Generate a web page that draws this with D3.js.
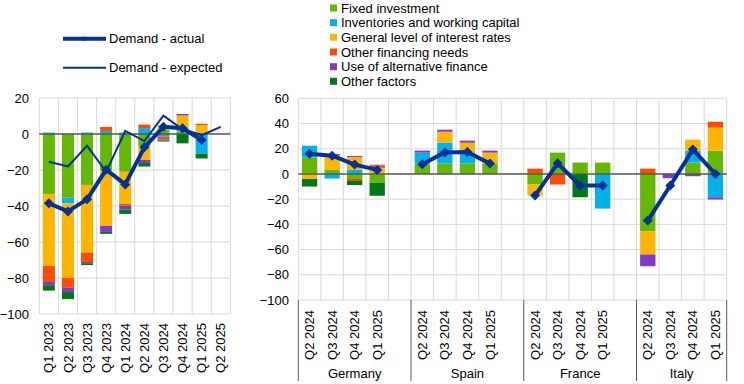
<!DOCTYPE html>
<html><head><meta charset="utf-8">
<script src="https://cdn.jsdelivr.net/npm/d3@7"></script>
<style>
body{margin:0;background:#fff;}
text{font-family:"Liberation Sans",Arial,sans-serif;font-size:13px;fill:#000;}
</style></head>
<body><svg id="c" width="744" height="384"></svg>
<script>
// ---------- DATA ----------
const seriesNames = ["Fixed investment","Inventories and working capital","General level of interest rates","Other financing needs","Use of alternative finance","Other factors"];
const seriesColors = ["#65B800","#00B1EA","#FFB400","#FF4B00","#8139C6","#007816"];

// Left panel (euro area)
const leftCats = ["Q1 2023","Q2 2023","Q3 2023","Q4 2023","Q1 2024","Q2 2024","Q3 2024","Q4 2024","Q1 2025","Q2 2025"];
const leftFixed   = [-33.3,-35.4,-28.3,-20.0,-21.0,-7.0, 2.5, 1.5, 0.0, null];
const leftInvent  = [  0.8, -3.1,  0.8,  1.7,  0.8, 3.3,-1.5, 1.8,-11.0, null];
const leftRates   = [-40.0,-41.5,-37.6,-31.0,-17.9,-7.4, 2.3, 7.0, 5.0, null];
const leftOtherFin= [ -8.9, -5.5, -5.2,  2.2, -0.9, 1.9,-1.5, 0.0, 0.7, null];
const leftAltFin  = [ -1.8, -2.3, -0.7, -3.4, -2.1,-1.7,-0.6, 0.8, 0.0, null];
const leftOther   = [ -3.0, -3.9, -1.0, -1.1, -2.5,-2.0,-0.6,-5.2,-2.6, null];
const leftActual  = [-38.5,-43.0,-36.3,-19.8,-28.0,-7.4, 4.0, 3.2,-3.3, null];
const leftExpected= [-15.4,-18.0, -6.5,-21.0,  1.7,-3.9,10.2, 2.6,-0.6, 4.0];
const leftTicks = [-100,-80,-60,-40,-20,0,20];

// Right panel (countries)
const countries = ["Germany","Spain","France","Italy"];
const quarters = ["Q2 2024","Q3 2024","Q4 2024","Q1 2025"];
//                    Germany                 Spain                  France                  Italy
const rFixed   = [13.1, 3.2,-4.0,-6.9,   8.4, 8.4, 8.4, 8.4,   -8.4,16.9, 9.0, 9.0,  -45.4, 0.0, 9.0,18.5];
const rInvent  = [ 9.3,-3.7, 3.2, 0.0,   8.5,16.4, 8.2, 0.0,    0.0, 0.0, 0.0,-27.5,   0.0, 0.0, 9.5,-18.5];
const rRates   = [-4.0,10.5,10.3, 4.8,   0.0, 8.7, 8.2, 8.5,   -8.8, 0.0, 0.0, 0.0,  -18.5, 0.0, 8.7,18.2];
const rOtherFin= [ 0.0, 1.2,-1.6, 2.0,   0.0, 0.0, 0.0, 0.0,    4.2,-8.4, 0.0, 0.0,    4.2, 0.0, 0.0, 4.7];
const rAltFin  = [ 0.0, 1.0, 0.8, 0.5,   1.6, 1.6, 1.6, 1.6,    0.0, 0.0, 0.0, 0.0,   -9.3,-3.4,-1.8,-1.8];
const rOther   = [-6.0, 0.0,-3.2,-10.4,  0.0, 0.0, 0.0, 0.0,    0.0, 0.0,-18.5, 0.0,   0.0, 0.0, 0.0, 0.0];
const rActual  = [16.0,14.5, 7.4, 3.2,   7.6,17.1,17.4, 8.2,  -17.2, 8.4,-9.2,-9.2,  -37.0,-9.2,19.3, 0.0];
const rightTicks = [-100,-80,-60,-40,-20,0,20,40,60];

// ---------- DRAW ----------
const svg = d3.select("#c");
const gridCol = "#d9d9d9", zeroCol = "#595959", lineCol = "#003299";
const diamond = r => `M0,${-r}L${r},0L0,${r}L${-r},0Z`;

function stackRows(cats, arrs){
  return cats.map((c,i)=>{const o={cat:c}; seriesNames.forEach((s,j)=>o[s]=arrs[j][i]==null?0:arrs[j][i]); return o;});
}
const stacker = d3.stack().keys(seriesNames).offset(d3.stackOffsetDiverging);

// ===== Left panel =====
{
  const x = d3.scaleBand().domain(leftCats).range([39.3,230.3]).paddingInner(0.37).paddingOuter(0.185);
  const y = d3.scaleLinear().domain([-100,20]).range([314,98]);
  const g = svg.append("g");
  g.selectAll(".hg").data(leftTicks).join("line").attr("x1",39.3).attr("x2",230.3)
    .attr("y1",d=>y(d)).attr("y2",d=>y(d)).attr("stroke",gridCol).attr("stroke-width",1);
  const step = x.step();
  g.selectAll(".vg").data(d3.range(leftCats.length+1)).join("line")
    .attr("x1",i=>39.3+i*step).attr("x2",i=>39.3+i*step).attr("y1",98).attr("y2",314)
    .attr("stroke",gridCol).attr("stroke-width",1);
  const ya = d3.axisLeft(y).tickValues(leftTicks).tickSize(0).tickPadding(0);
  const yg = g.append("g").attr("transform","translate(29,0)").call(ya);
  yg.select(".domain").remove();
  yg.selectAll("text").attr("font-size",13).attr("font-family","Liberation Sans, Arial, sans-serif").attr("fill","#000");
  const stacked = stacker(stackRows(leftCats,[leftFixed,leftInvent,leftRates,leftOtherFin,leftAltFin,leftOther]));
  stacked.forEach((s,j)=>{
    g.append("g").attr("fill",seriesColors[j]).selectAll("rect").data(s).join("rect")
      .attr("x",d=>x(d.data.cat)).attr("width",x.bandwidth())
      .attr("y",d=>y(Math.max(d[0],d[1]))).attr("height",d=>Math.abs(y(d[0])-y(d[1])));
  });
  g.append("line").attr("x1",39.3).attr("x2",230.3).attr("y1",y(0)).attr("y2",y(0)).attr("stroke",zeroCol).attr("stroke-width",1.5);
  const cx = c=>x(c)+x.bandwidth()/2;
  const ln = d3.line().defined(d=>d.v!=null).x(d=>cx(d.c)).y(d=>y(d.v));
  const expData = leftCats.map((c,i)=>({c,v:leftExpected[i]}));
  const actData = leftCats.map((c,i)=>({c,v:leftActual[i]}));
  g.append("path").attr("d",ln(expData)).attr("fill","none").attr("stroke",lineCol).attr("stroke-width",2);
  g.append("path").attr("d",ln(actData)).attr("fill","none").attr("stroke",lineCol).attr("stroke-width",4).attr("stroke-linejoin","round");
  g.selectAll(".mk").data(actData.filter(d=>d.v!=null)).join("path")
    .attr("d",diamond(5)).attr("transform",d=>`translate(${cx(d.c)},${y(d.v)})`).attr("fill",lineCol);
  g.selectAll(".xl").data(leftCats).join("text")
    .attr("transform",c=>`translate(${cx(c)},323) rotate(-90)`).attr("text-anchor","end").attr("dy","0.35em")
    .attr("font-size",13.5).text(c=>c);
  const lg = svg.append("g");
  lg.append("line").attr("x1",63).attr("x2",106).attr("y1",38.7).attr("y2",38.7).attr("stroke",lineCol).attr("stroke-width",4);
  lg.append("path").attr("d",diamond(2.5)).attr("transform","translate(84.5,38.7)").attr("fill",lineCol);
  lg.append("text").attr("x",109).attr("y",38.7).attr("dy","0.35em").attr("font-size",12.6).text("Demand - actual");
  lg.append("line").attr("x1",63).attr("x2",106).attr("y1",67.7).attr("y2",67.7).attr("stroke",lineCol).attr("stroke-width",2);
  lg.append("text").attr("x",109).attr("y",67.7).attr("dy","0.35em").attr("font-size",12.6).text("Demand - expected");
}

// ===== Right panel =====
{
  const keys = [];
  countries.forEach((c,i)=>{ quarters.forEach(q=>keys.push(c+"|"+q)); if(i<countries.length-1) keys.push("gap"+i); });
  const x0 = 298.3, x1 = 726.7;
  const x = d3.scaleBand().domain(keys).range([x0,x1]).paddingInner(0.32).paddingOuter(0.16);
  const y = d3.scaleLinear().domain([-100,60]).range([300,98.3]);
  const g = svg.append("g");
  g.selectAll(".hg").data(rightTicks).join("line").attr("x1",x0).attr("x2",x1)
    .attr("y1",d=>y(d)).attr("y2",d=>y(d)).attr("stroke",gridCol).attr("stroke-width",1);
  const step = x.step();
  g.selectAll(".vg").data(d3.range(keys.length+1)).join("line")
    .attr("x1",i=>x0+i*step).attr("x2",i=>x0+i*step).attr("y1",98.3).attr("y2",300)
    .attr("stroke",gridCol).attr("stroke-width",1);
  const ya = d3.axisLeft(y).tickValues(rightTicks).tickSize(0).tickPadding(0);
  const yg = g.append("g").attr("transform","translate(289,0)").call(ya);
  yg.select(".domain").remove();
  yg.selectAll("text").attr("font-size",13).attr("font-family","Liberation Sans, Arial, sans-serif").attr("fill","#000");

  const rowKeys = [];
  countries.forEach(c=>quarters.forEach(q=>rowKeys.push(c+"|"+q)));
  const stacked = stacker(stackRows(rowKeys,[rFixed,rInvent,rRates,rOtherFin,rAltFin,rOther]));
  stacked.forEach((s,j)=>{
    g.append("g").attr("fill",seriesColors[j]).selectAll("rect").data(s).join("rect")
      .attr("x",d=>x(d.data.cat)).attr("width",x.bandwidth())
      .attr("y",d=>y(Math.max(d[0],d[1]))).attr("height",d=>Math.abs(y(d[0])-y(d[1])));
  });
  g.append("line").attr("x1",x0).attr("x2",x1).attr("y1",y(0)).attr("y2",y(0)).attr("stroke",zeroCol).attr("stroke-width",1.5);
  const cx = k=>x(k)+x.bandwidth()/2;
  const ln = d3.line().x(d=>cx(d.k)).y(d=>y(d.v));
  countries.forEach((c,ci)=>{
    const pts = quarters.map((q,qi)=>({k:c+"|"+q, v:rActual[ci*4+qi]}));
    g.append("path").attr("d",ln(pts)).attr("fill","none").attr("stroke",lineCol).attr("stroke-width",4).attr("stroke-linejoin","round");
    g.selectAll(".mk"+ci).data(pts).join("path").attr("d",diamond(5))
      .attr("transform",d=>`translate(${cx(d.k)},${y(d.v)})`).attr("fill",lineCol);
  });
  g.selectAll(".xl").data(rowKeys).join("text")
    .attr("transform",k=>`translate(${cx(k)},310) rotate(-90)`).attr("text-anchor","end").attr("dy","0.35em")
    .attr("font-size",12.5).text(k=>k.split("|")[1]);
  const sepX = [x0].concat(countries.slice(1).map(c=>x(c+"|"+quarters[0])-(x.step()-x.bandwidth())/2), [x1]);
  g.selectAll(".sep").data(sepX).join("line").attr("x1",d=>d).attr("x2",d=>d).attr("y1",300).attr("y2",381)
    .attr("stroke","#595959").attr("stroke-width",1);
  g.selectAll(".gl").data(countries).join("text")
    .attr("x",(c,i)=>(sepX[i]+sepX[i+1])/2).attr("y",373).attr("dy","0.35em").attr("text-anchor","middle").text(c=>c);
  const lg = svg.append("g");
  const ly = [8,22.7,37.3,52,66.7,81.3];
  seriesNames.forEach((s,j)=>{
    lg.append("rect").attr("x",330).attr("y",ly[j]-3.5).attr("width",7).attr("height",7).attr("fill",seriesColors[j]);
    lg.append("text").attr("x",341).attr("y",ly[j]).attr("dy","0.35em").attr("font-size",12.8).text(s);
  });
}
</script></body></html>
